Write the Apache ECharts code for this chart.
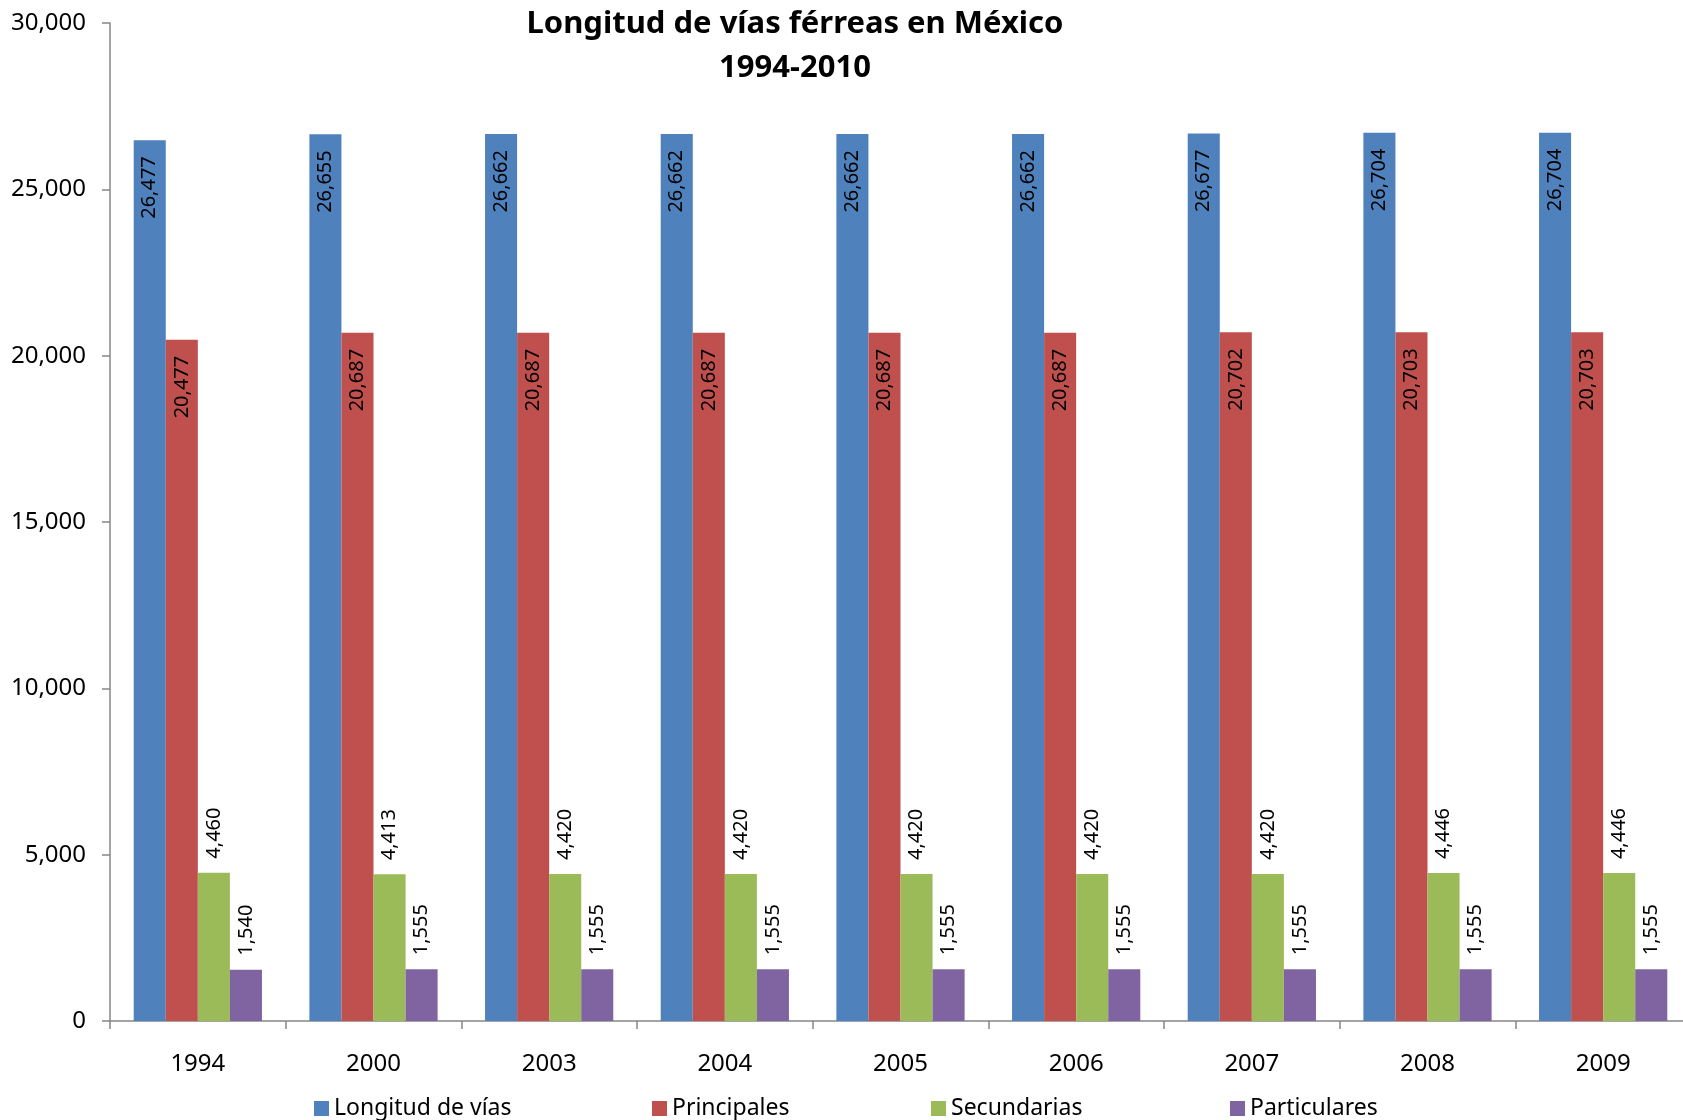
<!DOCTYPE html>
<html>
<head>
<meta charset="utf-8">
<script src="https://cdn.jsdelivr.net/npm/echarts@6/dist/echarts.min.js"></script>
<style>
html,body{margin:0;padding:0;background:#fff;}
#chart{width:1683px;height:1120px;}
</style>
</head>
<body>
<div id="chart"></div>
<script>
const categories = ['1994','2000','2003','2004','2005','2006','2007','2008','2009'];
const longitud = [26477, 26655, 26662, 26662, 26662, 26662, 26677, 26704, 26704];
const principales = [20477, 20687, 20687, 20687, 20687, 20687, 20702, 20703, 20703];
const secundarias = [4460, 4413, 4420, 4420, 4420, 4420, 4420, 4446, 4446];
const particulares = [1540, 1555, 1555, 1555, 1555, 1555, 1555, 1555, 1555];
const seriesNames = ['Longitud de vías', 'Principales', 'Secundarias', 'Particulares'];
const yTicks = [0, 5000, 10000, 15000, 20000, 25000, 30000];

const FONT = 'Noto Sans';
const fmt = v => Number(v).toLocaleString('en-US');
const colors = ['#4F81BD', '#C0504D', '#9BBB59', '#8064A2'];

const insideLabel = {
  show: true, position: 'insideTop', distance: 16, rotate: 90,
  align: 'right', verticalAlign: 'middle',
  color: '#000', fontFamily: FONT, fontSize: 20,
  formatter: p => fmt(p.value)
};
const topLabel = {
  show: true, position: 'top', distance: 14, rotate: 90,
  align: 'left', verticalAlign: 'middle',
  color: '#000', fontFamily: FONT, fontSize: 20,
  formatter: p => fmt(p.value)
};

const dataArr = [longitud, principales, secundarias, particulares];
const series = dataArr.map((d, i) => ({
  name: seriesNames[i],
  type: 'bar',
  data: d,
  barGap: '0%',
  barCategoryGap: '27%',
  itemStyle: { color: colors[i] },
  label: i < 2 ? insideLabel : topLabel,
  animation: false
}));

const legendLefts = [309, 647, 926, 1225];
const legends = seriesNames.map((n, i) => ({
  data: [n],
  left: legendLefts[i],
  top: 1092,
  icon: 'rect',
  itemWidth: 15,
  itemHeight: 15,
  textStyle: { fontFamily: FONT, fontSize: 23, color: '#000' },
  selectedMode: false
}));

const chart = echarts.init(document.getElementById('chart'));
chart.setOption({
  backgroundColor: '#fff',
  color: colors,
  animation: false,
  title: {
    text: 'Longitud de vías férreas en México\n1994-2010',
    left: 790,
    top: -3,
    textAlign: 'center',
    textStyle: { fontFamily: FONT, fontWeight: 'bold', fontSize: 31, color: '#000', lineHeight: 44 }
  },
  legend: legends,
  grid: { left: 110, width: 1581, top: 23, height: 998, containLabel: false, outerBoundsMode: 'none' },
  xAxis: {
    type: 'category',
    data: categories,
    axisLine: { lineStyle: { color: '#868686', width: 1.5 } },
    axisTick: { show: true, length: 8, inside: false, lineStyle: { color: '#868686', width: 1.5 } },
    axisLabel: { fontFamily: FONT, fontSize: 24, color: '#000', margin: 31 }
  },
  yAxis: {
    type: 'value',
    min: yTicks[0],
    max: yTicks[yTicks.length - 1],
    interval: yTicks[1] - yTicks[0],
    axisLine: { show: true, lineStyle: { color: '#868686', width: 1.5 } },
    axisTick: { show: true, length: 8, inside: false, lineStyle: { color: '#868686', width: 1.5 } },
    splitLine: { show: false },
    axisLabel: { fontFamily: FONT, fontSize: 24, color: '#000', margin: 24, formatter: v => fmt(v) }
  },
  series: series
});
</script>
</body>
</html>
